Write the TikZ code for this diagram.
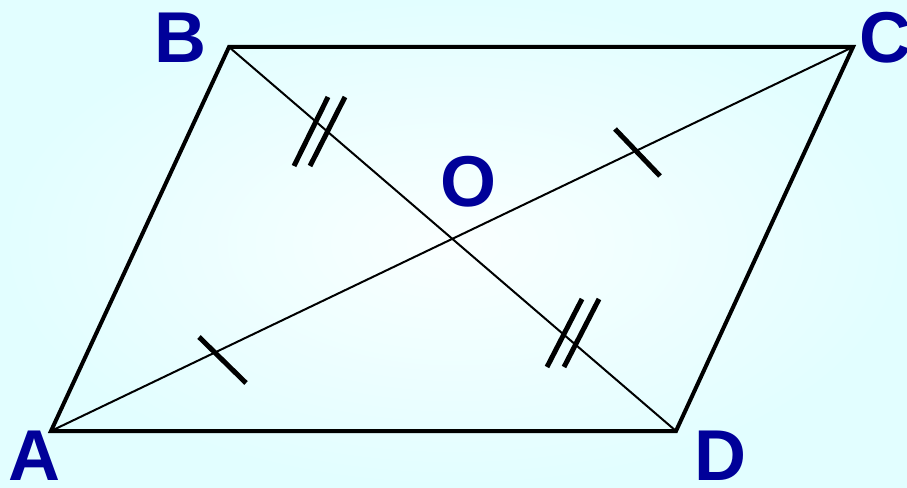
\documentclass[tikz,border=0pt]{standalone}
\usepackage{fontspec}
\setmainfont{Liberation Sans}
\definecolor{lblue}{HTML}{000099}
\definecolor{bgout}{HTML}{E2FEFF}
\definecolor{bgin}{HTML}{FAFFFF}
\begin{document}
\begin{tikzpicture}[x=1pt,y=-1pt,
  side/.style={line width=4pt,line join=miter},
  diag/.style={line width=2pt},
  tick/.style={line width=5pt},
  lab/.style={text=lblue,inner sep=0pt,font=\fontsize{72}{72}\selectfont\bfseries}]
\shade[inner color=bgin,outer color=bgout] (0,0) rectangle (907,487);
\useasboundingbox (0,0) rectangle (907,487);
\coordinate (A) at (51,431);
\coordinate (B) at (229,47);
\coordinate (C) at (853,47);
\coordinate (D) at (676,431);
\draw[diag] (A) -- (C);
\draw[diag] (B) -- (D);
\draw[side] (A) -- (B) -- (C) -- (D) -- cycle;
% ticks
\coordinate (t1a) at (199,337); \coordinate (t1b) at (246,383);
\coordinate (t2a) at (615,129); \coordinate (t2b) at (660,176);
\draw[tick] (t1a) -- (t1b);
\draw[tick] (t2a) -- (t2b);
\coordinate (d1a) at (328,97); \coordinate (d1b) at (294,166);
\coordinate (d2a) at (345,97); \coordinate (d2b) at (310,166);
\draw[tick] (d1a) -- (d1b);
\draw[tick] (d2a) -- (d2b);
\coordinate (e1a) at (582,299); \coordinate (e1b) at (547,367);
\coordinate (e2a) at (599,299); \coordinate (e2b) at (564,367);
\draw[tick] (e1a) -- (e1b);
\draw[tick] (e2a) -- (e2b);
% labels
\node[lab] (lB) at (180,38) {B};
\node[lab] (lC) at (885,38) {C};
\node[lab] (lA) at (34,456) {A};
\node[lab] (lD) at (720,456) {D};
\node[lab] (lO) at (468,182) {O};
\end{tikzpicture}
\end{document}
